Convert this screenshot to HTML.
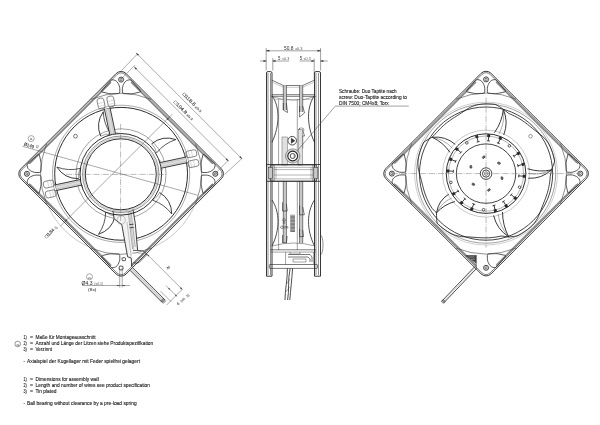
<!DOCTYPE html>
<html><head><meta charset="utf-8"><style>
html,body{margin:0;padding:0;background:#fff;}
svg{display:block;will-change:transform;}
text{font-family:"Liberation Sans",sans-serif;}
</style></head><body>
<svg width="600" height="425" viewBox="0 0 600 425">
<rect width="600" height="425" fill="#fff"/>
<g transform="translate(121.1,173.8) rotate(45)"><rect x="-74.4" y="-74.4" width="148.8" height="148.8" rx="7" stroke="#222" stroke-width="0.85" fill="none"/><rect x="-73.05" y="-73.05" width="146.1" height="146.1" rx="5.7" stroke="#222" stroke-width="0.55" fill="none"/></g>
<line x1="111.13" y1="81.81" x2="29.11" y2="163.83" stroke="#808080" stroke-width="1.2" />
<line x1="110.92" y1="83.01" x2="30.31" y2="163.62" stroke="#444" stroke-width="0.4" />
<line x1="213.09" y1="163.83" x2="131.07" y2="81.81" stroke="#808080" stroke-width="1.2" />
<line x1="211.89" y1="163.62" x2="131.28" y2="83.01" stroke="#444" stroke-width="0.4" />
<line x1="131.07" y1="265.79" x2="213.09" y2="183.77" stroke="#808080" stroke-width="1.2" />
<line x1="131.28" y1="264.59" x2="211.89" y2="183.98" stroke="#444" stroke-width="0.4" />
<line x1="29.11" y1="183.77" x2="111.13" y2="265.79" stroke="#808080" stroke-width="1.2" />
<line x1="30.31" y1="183.98" x2="110.92" y2="264.59" stroke="#444" stroke-width="0.4" />
<path d="M124,93.55 Q122.4,93.5 122.4,91.9 L122.4,88.8 Q122.4,87.2 122.99,85.71 L123.41,84.69 Q124,83.2 125.04,81.98 L125.26,81.72 Q126.3,80.5 127.86,80.15 L129.14,79.85 Q130.7,79.5 131.74,80.71 L140.26,90.59 Q141.3,91.8 139.74,92.14 L133.66,93.46 Q132.1,93.8 130.5,93.75 Z" stroke="#222" stroke-width="0.75" fill="none" />
<path d="M118.2,93.55 Q119.8,93.5 119.8,91.9 L119.8,88.8 Q119.8,87.2 119.21,85.71 L118.79,84.69 Q118.2,83.2 117.16,81.98 L116.94,81.72 Q115.9,80.5 114.34,80.15 L113.06,79.85 Q111.5,79.5 110.46,80.71 L101.94,90.59 Q100.9,91.8 102.46,92.14 L108.54,93.46 Q110.1,93.8 111.7,93.75 Z" stroke="#222" stroke-width="0.75" fill="none" />
<circle cx="121.1" cy="79.6" r="2.5" stroke="#222" stroke-width="0.85" fill="none" />
<circle cx="121.1" cy="79.6" r="1.1" stroke="#222" stroke-width="0.6" fill="#fff" />
<path d="M201.35,176.7 Q201.4,175.1 203,175.1 L206.1,175.1 Q207.7,175.1 209.19,175.69 L210.21,176.11 Q211.7,176.7 212.92,177.74 L213.18,177.96 Q214.4,179 214.75,180.56 L215.05,181.84 Q215.4,183.4 214.19,184.44 L204.31,192.96 Q203.1,194 202.76,192.44 L201.44,186.36 Q201.1,184.8 201.15,183.2 Z" stroke="#222" stroke-width="0.75" fill="none" />
<path d="M201.35,170.9 Q201.4,172.5 203,172.5 L206.1,172.5 Q207.7,172.5 209.19,171.91 L210.21,171.49 Q211.7,170.9 212.92,169.86 L213.18,169.64 Q214.4,168.6 214.75,167.04 L215.05,165.76 Q215.4,164.2 214.19,163.16 L204.31,154.64 Q203.1,153.6 202.76,155.16 L201.44,161.24 Q201.1,162.8 201.15,164.4 Z" stroke="#222" stroke-width="0.75" fill="none" />
<circle cx="215.3" cy="173.8" r="2.5" stroke="#222" stroke-width="0.85" fill="none" />
<circle cx="215.3" cy="173.8" r="1.1" stroke="#222" stroke-width="0.6" fill="#fff" />
<path d="M118.2,254.05 Q119.8,254.1 119.8,255.7 L119.8,258.8 Q119.8,260.4 119.21,261.89 L118.79,262.91 Q118.2,264.4 117.16,265.62 L116.94,265.88 Q115.9,267.1 114.34,267.45 L113.06,267.75 Q111.5,268.1 110.46,266.89 L101.94,257.01 Q100.9,255.8 102.46,255.46 L108.54,254.14 Q110.1,253.8 111.7,253.85 Z" stroke="#222" stroke-width="0.75" fill="none" />
<rect x="119.2" y="266.1" width="3.8" height="3.8" rx="1" stroke="#222" stroke-width="0.8" fill="none"/>
<rect x="122.1" y="257.7" width="3.4" height="3.0" rx="0.8" stroke="#222" stroke-width="0.8" fill="none"/>
<path d="M40.85,170.9 Q40.8,172.5 39.2,172.5 L36.1,172.5 Q34.5,172.5 33.01,171.91 L31.99,171.49 Q30.5,170.9 29.28,169.86 L29.02,169.64 Q27.8,168.6 27.45,167.04 L27.15,165.76 Q26.8,164.2 28.01,163.16 L37.89,154.64 Q39.1,153.6 39.44,155.16 L40.76,161.24 Q41.1,162.8 41.05,164.4 Z" stroke="#222" stroke-width="0.75" fill="none" />
<path d="M40.85,176.7 Q40.8,175.1 39.2,175.1 L36.1,175.1 Q34.5,175.1 33.01,175.69 L31.99,176.11 Q30.5,176.7 29.28,177.74 L29.02,177.96 Q27.8,179 27.45,180.56 L27.15,181.84 Q26.8,183.4 28.01,184.44 L37.89,192.96 Q39.1,194 39.44,192.44 L40.76,186.36 Q41.1,184.8 41.05,183.2 Z" stroke="#222" stroke-width="0.75" fill="none" />
<circle cx="26.9" cy="173.8" r="2.5" stroke="#222" stroke-width="0.85" fill="none" />
<circle cx="26.9" cy="173.8" r="1.1" stroke="#222" stroke-width="0.6" fill="#fff" />
<path d="M91.02,99.35 A80.3,80.3 0 0 1 151.18,99.35" stroke="#444" stroke-width="0.6" fill="none" />
<path d="M195.55,143.72 A80.3,80.3 0 0 1 195.55,203.88" stroke="#444" stroke-width="0.6" fill="none" />
<path d="M151.18,248.25 A80.3,80.3 0 0 1 91.02,248.25" stroke="#444" stroke-width="0.6" fill="none" />
<path d="M46.65,203.88 A80.3,80.3 0 0 1 46.65,143.72" stroke="#444" stroke-width="0.6" fill="none" />
<circle cx="121.1" cy="173.8" r="66.4" stroke="#222" stroke-width="0.95" fill="none" />
<circle cx="121.1" cy="173.8" r="68.6" stroke="#444" stroke-width="0.45" fill="none" />
<circle cx="121.1" cy="173.8" r="45" stroke="#444" stroke-width="0.5" fill="none" />
<path d="M151.63,143.8 Q162.59,134.99 175.88,139.57" stroke="#222" stroke-width="0.9" fill="none" />
<path d="M156.6,152.89 Q164.2,143.27 175.88,139.57" stroke="#222" stroke-width="0.75" fill="none" />
<path d="M151.63,143.8 Q155.52,147.58 156.6,152.89" stroke="#444" stroke-width="0.5" fill="none" />
<path d="M159.6,192.5 Q171.58,199.86 171.73,213.93" stroke="#222" stroke-width="0.9" fill="none" />
<path d="M152.71,200.23 Q164.32,204.16 171.73,213.93" stroke="#222" stroke-width="0.75" fill="none" />
<path d="M159.6,192.5 Q157.35,197.43 152.71,200.23" stroke="#444" stroke-width="0.5" fill="none" />
<path d="M115.14,216.18 Q111.82,229.85 98.48,234.31" stroke="#222" stroke-width="0.9" fill="none" />
<path d="M105.67,212 Q105.5,224.26 98.48,234.31" stroke="#222" stroke-width="0.75" fill="none" />
<path d="M115.14,216.18 Q109.76,215.56 105.67,212" stroke="#444" stroke-width="0.5" fill="none" />
<path d="M78.58,178.65 Q64.51,178.84 56.85,167.05" stroke="#222" stroke-width="0.9" fill="none" />
<path d="M80.25,168.42 Q68.34,171.33 56.85,167.05" stroke="#222" stroke-width="0.75" fill="none" />
<path d="M78.58,178.65 Q77.83,173.27 80.25,168.42" stroke="#444" stroke-width="0.5" fill="none" />
<path d="M100.68,136.19 Q95.22,123.22 103.29,111.7" stroke="#222" stroke-width="0.9" fill="none" />
<path d="M110.78,133.91 Q103.63,123.96 103.29,111.7" stroke="#222" stroke-width="0.75" fill="none" />
<path d="M100.68,136.19 Q105.38,133.49 110.78,133.91" stroke="#444" stroke-width="0.5" fill="none" />
<g transform="translate(121.1,173.8) rotate(-12)"><rect x="40.5" y="-2.9" width="26" height="5.8" fill="#dcdcdc"/><path d="M40.5,-2.9 L66.5,-2.9 M40.5,2.9 L66.5,2.9" stroke="#222" stroke-width="0.8" fill="none"/><path d="M41,-1.4 L66,-1.4 M41,1.4 L66,1.4" stroke="#999" stroke-width="0.3" fill="none"/><rect x="67.6" y="-8.4" width="10.6" height="6.8" rx="2.2" stroke="#444" stroke-width="0.6" fill="none"/><path d="M70.5,-2 L70.5,-8 M73.5,-2 L73.5,-8" stroke="#999" stroke-width="0.35" fill="none"/><rect x="67.6" y="1.6" width="10.6" height="6.8" rx="2.2" stroke="#444" stroke-width="0.6" fill="none"/><path d="M70.5,2 L70.5,8 M73.5,2 L73.5,8" stroke="#999" stroke-width="0.35" fill="none"/><path d="M66.5,-2.9 L67.6,-2.9 M66.5,2.9 L67.6,2.9" stroke="#222" stroke-width="0.7" fill="none"/><path d="M40.5,-2.9 Q41.5,-4.5 40.2,-6 M40.5,2.9 Q41.5,4.5 40.2,6" stroke="#444" stroke-width="0.5" fill="none"/></g>
<g transform="translate(121.1,173.8) rotate(78)"></g>
<g transform="translate(121.1,173.8) rotate(168)"><rect x="40.5" y="-2.9" width="26" height="5.8" fill="#dcdcdc"/><path d="M40.5,-2.9 L66.5,-2.9 M40.5,2.9 L66.5,2.9" stroke="#222" stroke-width="0.8" fill="none"/><path d="M41,-1.4 L66,-1.4 M41,1.4 L66,1.4" stroke="#999" stroke-width="0.3" fill="none"/><rect x="67.6" y="-8.4" width="10.6" height="6.8" rx="2.2" stroke="#444" stroke-width="0.6" fill="none"/><path d="M70.5,-2 L70.5,-8 M73.5,-2 L73.5,-8" stroke="#999" stroke-width="0.35" fill="none"/><rect x="67.6" y="1.6" width="10.6" height="6.8" rx="2.2" stroke="#444" stroke-width="0.6" fill="none"/><path d="M70.5,2 L70.5,8 M73.5,2 L73.5,8" stroke="#999" stroke-width="0.35" fill="none"/><path d="M66.5,-2.9 L67.6,-2.9 M66.5,2.9 L67.6,2.9" stroke="#222" stroke-width="0.7" fill="none"/><path d="M40.5,-2.9 Q41.5,-4.5 40.2,-6 M40.5,2.9 Q41.5,4.5 40.2,6" stroke="#444" stroke-width="0.5" fill="none"/></g>
<g transform="translate(121.1,173.8) rotate(258)"><rect x="40.5" y="-2.9" width="26" height="5.8" fill="#dcdcdc"/><path d="M40.5,-2.9 L66.5,-2.9 M40.5,2.9 L66.5,2.9" stroke="#222" stroke-width="0.8" fill="none"/><path d="M41,-1.4 L66,-1.4 M41,1.4 L66,1.4" stroke="#999" stroke-width="0.3" fill="none"/><rect x="67.6" y="-8.4" width="10.6" height="6.8" rx="2.2" stroke="#444" stroke-width="0.6" fill="none"/><path d="M70.5,-2 L70.5,-8 M73.5,-2 L73.5,-8" stroke="#999" stroke-width="0.35" fill="none"/><rect x="67.6" y="1.6" width="10.6" height="6.8" rx="2.2" stroke="#444" stroke-width="0.6" fill="none"/><path d="M70.5,2 L70.5,8 M73.5,2 L73.5,8" stroke="#999" stroke-width="0.35" fill="none"/><path d="M66.5,-2.9 L67.6,-2.9 M66.5,2.9 L67.6,2.9" stroke="#222" stroke-width="0.7" fill="none"/><path d="M40.5,-2.9 Q41.5,-4.5 40.2,-6 M40.5,2.9 Q41.5,4.5 40.2,6" stroke="#444" stroke-width="0.5" fill="none"/></g>
<path d="M112.9,210.6 L133,209.4 L135.3,223.5 L137.6,250.3 L133,250.5 L131.2,258 L127.6,256.8 L121.8,224.7 L114.1,218.8 Z" fill="#f2f2f2"/>
<path d="M112.9,210.6 L114.1,218.8 L121.8,224.7 L127.6,256.8 L131.2,258 L131.8,266.8" stroke="#222" stroke-width="0.85" fill="none" />
<path d="M133,209.4 L135.3,223.5 L137.6,250.3" stroke="#222" stroke-width="0.85" fill="none" />
<path d="M127,222 L131.2,256.5 M129.5,211 L133.8,250" stroke="#777" stroke-width="0.4" fill="none" />
<path d="M129.4,224.6 L133.6,224.2 M129.7,227.8 L133.9,227.4" stroke="#222" stroke-width="0.8" fill="none" />
<path d="M128.2,212 L132.6,249 M130.9,211 L135.2,247" stroke="#444" stroke-width="0.4" fill="none" />
<circle cx="121.2" cy="220" r="4.1" stroke="#777" stroke-width="0.4" fill="none" />
<path d="M133,250.5 L140,250.5 Q146,251 146.5,255 L139,262.5 Q136,264 133.5,262.5" stroke="#222" stroke-width="0.7" fill="none" />
<path d="M137.6,253 L143.5,253.5 L138,259" stroke="#444" stroke-width="0.4" fill="none" />
<circle cx="120.8" cy="174.3" r="35.5" stroke="#222" stroke-width="0.95" fill="none" />
<circle cx="120.8" cy="174.3" r="36.8" stroke="#777" stroke-width="0.4" fill="none" />
<circle cx="120.8" cy="174.3" r="38.2" stroke="#444" stroke-width="0.6" fill="none" />
<circle cx="120.8" cy="174.3" r="40.8" stroke="#222" stroke-width="0.95" fill="none" />
<circle cx="75.5" cy="136.2" r="1.9" stroke="#222" stroke-width="0.6" fill="none" />
<line x1="120.6" y1="123.8" x2="120.6" y2="220.8" stroke="#555" stroke-width="0.4" stroke-dasharray="6,1.2,0.8,1.2"/>
<line x1="66.1" y1="174.4" x2="166.1" y2="174.4" stroke="#555" stroke-width="0.4" stroke-dasharray="6,1.2,0.8,1.2"/>
<g transform="translate(486.05,173.6) rotate(45)"><rect x="-74.4" y="-74.4" width="148.8" height="148.8" rx="7" stroke="#222" stroke-width="0.85" fill="none"/><rect x="-73.05" y="-73.05" width="146.1" height="146.1" rx="5.7" stroke="#222" stroke-width="0.55" fill="none"/></g>
<line x1="476.08" y1="81.61" x2="394.06" y2="163.63" stroke="#808080" stroke-width="1.2" />
<line x1="475.87" y1="82.81" x2="395.26" y2="163.42" stroke="#444" stroke-width="0.4" />
<line x1="578.04" y1="163.63" x2="496.02" y2="81.61" stroke="#808080" stroke-width="1.2" />
<line x1="576.84" y1="163.42" x2="496.23" y2="82.81" stroke="#444" stroke-width="0.4" />
<line x1="496.02" y1="265.59" x2="578.04" y2="183.57" stroke="#808080" stroke-width="1.2" />
<line x1="496.23" y1="264.39" x2="576.84" y2="183.78" stroke="#444" stroke-width="0.4" />
<line x1="394.06" y1="183.57" x2="476.08" y2="265.59" stroke="#808080" stroke-width="1.2" />
<line x1="395.26" y1="183.78" x2="475.87" y2="264.39" stroke="#444" stroke-width="0.4" />
<path d="M488.95,93.35 Q487.35,93.3 487.35,91.7 L487.35,88.6 Q487.35,87 487.94,85.51 L488.36,84.49 Q488.95,83 489.99,81.78 L490.21,81.52 Q491.25,80.3 492.81,79.95 L494.09,79.65 Q495.65,79.3 496.69,80.51 L505.21,90.39 Q506.25,91.6 504.69,91.94 L498.61,93.26 Q497.05,93.6 495.45,93.55 Z" stroke="#222" stroke-width="0.75" fill="none" />
<path d="M483.15,93.35 Q484.75,93.3 484.75,91.7 L484.75,88.6 Q484.75,87 484.16,85.51 L483.74,84.49 Q483.15,83 482.11,81.78 L481.89,81.52 Q480.85,80.3 479.29,79.95 L478.01,79.65 Q476.45,79.3 475.41,80.51 L466.89,90.39 Q465.85,91.6 467.41,91.94 L473.49,93.26 Q475.05,93.6 476.65,93.55 Z" stroke="#222" stroke-width="0.75" fill="none" />
<circle cx="486.05" cy="79.4" r="2.5" stroke="#222" stroke-width="0.85" fill="none" />
<circle cx="486.05" cy="79.4" r="1.1" stroke="#222" stroke-width="0.6" fill="#fff" />
<path d="M566.3,176.5 Q566.35,174.9 567.95,174.9 L571.05,174.9 Q572.65,174.9 574.14,175.49 L575.16,175.91 Q576.65,176.5 577.87,177.54 L578.13,177.76 Q579.35,178.8 579.7,180.36 L580,181.64 Q580.35,183.2 579.14,184.24 L569.26,192.76 Q568.05,193.8 567.71,192.24 L566.39,186.16 Q566.05,184.6 566.1,183 Z" stroke="#222" stroke-width="0.75" fill="none" />
<path d="M566.3,170.7 Q566.35,172.3 567.95,172.3 L571.05,172.3 Q572.65,172.3 574.14,171.71 L575.16,171.29 Q576.65,170.7 577.87,169.66 L578.13,169.44 Q579.35,168.4 579.7,166.84 L580,165.56 Q580.35,164 579.14,162.96 L569.26,154.44 Q568.05,153.4 567.71,154.96 L566.39,161.04 Q566.05,162.6 566.1,164.2 Z" stroke="#222" stroke-width="0.75" fill="none" />
<circle cx="580.25" cy="173.6" r="2.5" stroke="#222" stroke-width="0.85" fill="none" />
<circle cx="580.25" cy="173.6" r="1.1" stroke="#222" stroke-width="0.6" fill="#fff" />
<path d="M488.95,253.85 Q487.35,253.9 487.35,255.5 L487.35,258.6 Q487.35,260.2 487.94,261.69 L488.36,262.71 Q488.95,264.2 489.99,265.42 L490.21,265.68 Q491.25,266.9 492.81,267.25 L494.09,267.55 Q495.65,267.9 496.69,266.69 L505.21,256.81 Q506.25,255.6 504.69,255.26 L498.61,253.94 Q497.05,253.6 495.45,253.65 Z" stroke="#222" stroke-width="0.75" fill="none" />
<circle cx="486.05" cy="267.8" r="2.5" stroke="#222" stroke-width="0.85" fill="none" />
<circle cx="486.05" cy="267.8" r="1.1" stroke="#222" stroke-width="0.6" fill="#fff" />
<path d="M405.8,170.7 Q405.75,172.3 404.15,172.3 L401.05,172.3 Q399.45,172.3 397.96,171.71 L396.94,171.29 Q395.45,170.7 394.23,169.66 L393.97,169.44 Q392.75,168.4 392.4,166.84 L392.1,165.56 Q391.75,164 392.96,162.96 L402.84,154.44 Q404.05,153.4 404.39,154.96 L405.71,161.04 Q406.05,162.6 406,164.2 Z" stroke="#222" stroke-width="0.75" fill="none" />
<path d="M405.8,176.5 Q405.75,174.9 404.15,174.9 L401.05,174.9 Q399.45,174.9 397.96,175.49 L396.94,175.91 Q395.45,176.5 394.23,177.54 L393.97,177.76 Q392.75,178.8 392.4,180.36 L392.1,181.64 Q391.75,183.2 392.96,184.24 L402.84,192.76 Q404.05,193.8 404.39,192.24 L405.71,186.16 Q406.05,184.6 406,183 Z" stroke="#222" stroke-width="0.75" fill="none" />
<circle cx="391.85" cy="173.6" r="2.5" stroke="#222" stroke-width="0.85" fill="none" />
<circle cx="391.85" cy="173.6" r="1.1" stroke="#222" stroke-width="0.6" fill="#fff" />
<path d="M455.97,99.15 A80.3,80.3 0 0 1 516.13,99.15" stroke="#444" stroke-width="0.6" fill="none" />
<path d="M560.5,143.52 A80.3,80.3 0 0 1 560.5,203.68" stroke="#444" stroke-width="0.6" fill="none" />
<path d="M516.13,248.05 A80.3,80.3 0 0 1 455.97,248.05" stroke="#444" stroke-width="0.6" fill="none" />
<path d="M411.6,203.68 A80.3,80.3 0 0 1 411.6,143.52" stroke="#444" stroke-width="0.6" fill="none" />
<circle cx="486.05" cy="173.6" r="66.6" stroke="#222" stroke-width="0.85" fill="none" />
<circle cx="486.05" cy="173.6" r="69.6" stroke="#444" stroke-width="0.5" fill="none" />
<circle cx="486.05" cy="173.6" r="71.4" stroke="#777" stroke-width="0.35" fill="none" />
<circle cx="486.05" cy="173.6" r="43.5" stroke="#777" stroke-width="0.4" fill="none" />
<path d="M494.46,132.65 Q501.9,122.17 503.37,109.4" stroke="#222" stroke-width="0.9" fill="none" />
<path d="M503.74,134.96 Q508.76,122.1 503.37,109.4" stroke="#222" stroke-width="0.9" fill="none" />
<path d="M499.1,133.68 Q505.18,122.23 503.37,109.4" stroke="#444" stroke-width="0.45" fill="none" />
<path d="M450.03,152.38 Q443.17,142.38 432.16,137.25" stroke="#222" stroke-width="0.9" fill="none" />
<path d="M455.22,144.34 Q445.22,135.83 432.16,137.25" stroke="#222" stroke-width="0.9" fill="none" />
<path d="M452.51,148.32 Q444.25,139.27 432.16,137.25" stroke="#444" stroke-width="0.45" fill="none" />
<path d="M527.56,168.72 Q539.29,172.53 551.35,169.95" stroke="#222" stroke-width="0.9" fill="none" />
<path d="M528.29,178.26 Q541.58,179 551.35,169.95" stroke="#222" stroke-width="0.9" fill="none" />
<path d="M528.05,173.45 Q540.29,175.66 551.35,169.95" stroke="#444" stroke-width="0.45" fill="none" />
<path d="M454.94,201.52 Q444.05,204.46 436.52,212.86" stroke="#222" stroke-width="0.9" fill="none" />
<path d="M448.84,194.14 Q438.34,200.64 436.52,212.86" stroke="#222" stroke-width="0.9" fill="none" />
<path d="M451.81,197.93 Q441.37,202.53 436.52,212.86" stroke="#444" stroke-width="0.45" fill="none" />
<path d="M502.52,212.02 Q502.52,225.26 508.74,236.96" stroke="#222" stroke-width="0.9" fill="none" />
<path d="M493.58,215.43 Q496.9,229.19 508.74,236.96" stroke="#222" stroke-width="0.9" fill="none" />
<path d="M498.12,213.83 Q499.79,227.06 508.74,236.96" stroke="#444" stroke-width="0.45" fill="none" />
<path d="M432.16,137.25 L433.52,135.74 L434.92,134.29 L436.35,132.88 L437.68,131.39 L439.01,129.91 L440.38,128.47 L441.8,127.07 L443.27,125.71 L444.77,124.4 L446.3,123.14 L447.88,121.91 L449.48,120.73 L451.12,119.59 L452.78,118.48 L454.46,117.39 L456.16,116.32 L457.86,115.25 L459.58,114.16 L461.3,113.03 L463.03,111.87 L464.79,110.68 L466.58,109.49 L468.42,108.36 L470.33,107.32 L472.31,106.42 L474.34,105.67 L476.41,105.08 L478.52,104.62 L480.65,104.29 L482.8,104.06 L484.96,103.93 L487.12,103.89 L489.28,103.93 L491.44,104.04 L493.6,104.23 L495.75,104.49 L497.75,105.63 L499.69,106.83 L501.56,108.09 L503.37,109.4" stroke="#222" stroke-width="0.85" fill="none" />
<path d="M503.37,109.4 L505.16,110.66 L506.89,111.97 L508.56,113.32 L510.38,114.19 L512.23,114.98 L514.05,115.82 L515.85,116.72 L517.61,117.68 L519.35,118.68 L521.06,119.74 L522.74,120.85 L524.38,122 L526.01,123.19 L527.6,124.42 L529.18,125.68 L530.75,126.95 L532.33,128.24 L533.92,129.53 L535.55,130.81 L537.21,132.09 L538.91,133.39 L540.62,134.73 L542.29,136.13 L543.89,137.62 L545.38,139.22 L546.74,140.93 L547.98,142.72 L549.09,144.59 L550.09,146.53 L550.99,148.51 L551.8,150.53 L552.53,152.59 L553.18,154.67 L553.76,156.78 L554.26,158.9 L554.7,161.04 L553.97,163.35 L553.17,165.61 L552.3,167.81 L551.35,169.95" stroke="#222" stroke-width="0.85" fill="none" />
<path d="M551.35,169.95 L551.06,172.05 L550.7,174.14 L550.27,176.19 L550.08,178.25 L549.9,180.3 L549.66,182.34 L549.35,184.38 L548.98,186.4 L548.54,188.42 L548.04,190.41 L547.49,192.4 L546.88,194.37 L546.22,196.32 L545.52,198.26 L544.78,200.2 L544.02,202.13 L543.25,204.06 L542.47,206.01 L541.71,207.99 L540.96,210.01 L540.2,212.06 L539.4,214.13 L538.53,216.19 L537.54,218.2 L536.41,220.14 L535.15,221.98 L533.76,223.72 L532.26,225.37 L530.66,226.93 L528.98,228.4 L527.24,229.8 L525.44,231.13 L523.59,232.38 L521.69,233.57 L519.76,234.69 L517.79,235.75 L515.51,236.18 L513.25,236.52 L510.99,236.78 L508.74,236.96" stroke="#222" stroke-width="0.85" fill="none" />
<path d="M508.74,236.96 L506.46,236.71 L504.21,236.39 L502.01,235.99 L500.02,236.26 L498.07,236.67 L496.1,237.02 L494.12,237.3 L492.14,237.53 L490.15,237.69 L488.15,237.8 L486.15,237.85 L484.15,237.85 L482.15,237.8 L480.15,237.71 L478.15,237.59 L476.14,237.45 L474.13,237.3 L472.09,237.16 L470.04,237.04 L467.95,236.95 L465.82,236.86 L463.67,236.75 L461.5,236.57 L459.35,236.27 L457.22,235.82 L455.14,235.21 L453.11,234.45 L451.13,233.57 L449.22,232.56 L447.35,231.47 L445.53,230.29 L443.76,229.03 L442.04,227.71 L440.37,226.33 L438.74,224.89 L437.16,223.4 L436.82,220.72 L436.61,218.06 L436.51,215.44 L436.52,212.86" stroke="#222" stroke-width="0.85" fill="none" />
<path d="M436.52,212.86 L435.05,211.46 L433.63,210.01 L432.24,208.5 L431.11,206.82 L430.09,205.07 L429.12,203.29 L428.21,201.48 L427.35,199.64 L426.55,197.77 L425.8,195.89 L425.11,193.98 L424.47,192.05 L423.88,190.11 L423.33,188.15 L422.81,186.18 L422.32,184.2 L421.82,182.2 L421.31,180.2 L420.78,178.18 L420.22,176.13 L419.64,174.05 L419.07,171.94 L418.57,169.79 L418.19,167.62 L417.97,165.42 L417.91,163.22 L418,161.03 L418.25,158.84 L418.62,156.67 L419.1,154.53 L419.67,152.4 L420.34,150.3 L421.08,148.23 L421.9,146.18 L422.78,144.17 L423.74,142.18 L425.81,140.8 L427.91,139.52 L430.03,138.33 L432.16,137.25" stroke="#222" stroke-width="0.85" fill="none" />
<circle cx="486.05" cy="173.6" r="39.8" stroke="#222" stroke-width="0.95" fill="none" />
<circle cx="486.05" cy="173.6" r="37.6" stroke="#444" stroke-width="0.4" fill="none" />
<circle cx="486.05" cy="173.6" r="29.7" stroke="#222" stroke-width="0.85" fill="none" />
<g transform="translate(486.05,173.6) rotate(-86)"><rect x="36.6" y="-1.5" width="3.0" height="3.0" rx="0.6" fill="#2a2a2a"/><path d="M36.7,0 L32.8,0 M32.8,-1.5 L32.8,1.5" stroke="#2a2a2a" stroke-width="0.85" fill="none"/></g>
<g transform="translate(486.05,173.6) rotate(-68)"><rect x="36.6" y="-1.5" width="3.0" height="3.0" rx="0.6" fill="#2a2a2a"/><path d="M36.7,0 L32.8,0 M32.8,-1.5 L32.8,1.5" stroke="#2a2a2a" stroke-width="0.85" fill="none"/></g>
<circle cx="509.32" cy="145.87" r="1.3" stroke="#222" stroke-width="0.7" fill="none" />
<g transform="translate(486.05,173.6) rotate(-32)"><rect x="36.6" y="-1.5" width="3.0" height="3.0" rx="0.6" fill="#2a2a2a"/><path d="M36.7,0 L32.8,0 M32.8,-1.5 L32.8,1.5" stroke="#2a2a2a" stroke-width="0.85" fill="none"/></g>
<g transform="translate(486.05,173.6) rotate(-14)"><rect x="36.6" y="-1.5" width="3.0" height="3.0" rx="0.6" fill="#2a2a2a"/><path d="M36.7,0 L32.8,0 M32.8,-1.5 L32.8,1.5" stroke="#2a2a2a" stroke-width="0.85" fill="none"/></g>
<g transform="translate(486.05,173.6) rotate(4)"><rect x="36.6" y="-1.5" width="3.0" height="3.0" rx="0.6" fill="#2a2a2a"/><path d="M36.7,0 L32.8,0 M32.8,-1.5 L32.8,1.5" stroke="#2a2a2a" stroke-width="0.85" fill="none"/></g>
<circle cx="519.61" cy="187.16" r="1.3" stroke="#222" stroke-width="0.7" fill="none" />
<g transform="translate(486.05,173.6) rotate(40)"><rect x="36.6" y="-1.5" width="3.0" height="3.0" rx="0.6" fill="#2a2a2a"/><path d="M36.7,0 L32.8,0 M32.8,-1.5 L32.8,1.5" stroke="#2a2a2a" stroke-width="0.85" fill="none"/></g>
<g transform="translate(486.05,173.6) rotate(58)"><rect x="36.6" y="-1.5" width="3.0" height="3.0" rx="0.6" fill="#2a2a2a"/><path d="M36.7,0 L32.8,0 M32.8,-1.5 L32.8,1.5" stroke="#2a2a2a" stroke-width="0.85" fill="none"/></g>
<g transform="translate(486.05,173.6) rotate(76)"><rect x="36.6" y="-1.5" width="3.0" height="3.0" rx="0.6" fill="#2a2a2a"/><path d="M36.7,0 L32.8,0 M32.8,-1.5 L32.8,1.5" stroke="#2a2a2a" stroke-width="0.85" fill="none"/></g>
<circle cx="483.52" cy="209.71" r="1.3" stroke="#222" stroke-width="0.7" fill="none" />
<g transform="translate(486.05,173.6) rotate(112)"><rect x="36.6" y="-1.5" width="3.0" height="3.0" rx="0.6" fill="#2a2a2a"/><path d="M36.7,0 L32.8,0 M32.8,-1.5 L32.8,1.5" stroke="#2a2a2a" stroke-width="0.85" fill="none"/></g>
<g transform="translate(486.05,173.6) rotate(130)"><rect x="36.6" y="-1.5" width="3.0" height="3.0" rx="0.6" fill="#2a2a2a"/><path d="M36.7,0 L32.8,0 M32.8,-1.5 L32.8,1.5" stroke="#2a2a2a" stroke-width="0.85" fill="none"/></g>
<g transform="translate(486.05,173.6) rotate(148)"><rect x="36.6" y="-1.5" width="3.0" height="3.0" rx="0.6" fill="#2a2a2a"/><path d="M36.7,0 L32.8,0 M32.8,-1.5 L32.8,1.5" stroke="#2a2a2a" stroke-width="0.85" fill="none"/></g>
<circle cx="450.93" cy="182.36" r="1.3" stroke="#222" stroke-width="0.7" fill="none" />
<g transform="translate(486.05,173.6) rotate(184)"><rect x="36.6" y="-1.5" width="3.0" height="3.0" rx="0.6" fill="#2a2a2a"/><path d="M36.7,0 L32.8,0 M32.8,-1.5 L32.8,1.5" stroke="#2a2a2a" stroke-width="0.85" fill="none"/></g>
<g transform="translate(486.05,173.6) rotate(202)"><rect x="36.6" y="-1.5" width="3.0" height="3.0" rx="0.6" fill="#2a2a2a"/><path d="M36.7,0 L32.8,0 M32.8,-1.5 L32.8,1.5" stroke="#2a2a2a" stroke-width="0.85" fill="none"/></g>
<g transform="translate(486.05,173.6) rotate(220)"><rect x="36.6" y="-1.5" width="3.0" height="3.0" rx="0.6" fill="#2a2a2a"/><path d="M36.7,0 L32.8,0 M32.8,-1.5 L32.8,1.5" stroke="#2a2a2a" stroke-width="0.85" fill="none"/></g>
<circle cx="466.87" cy="142.9" r="1.3" stroke="#222" stroke-width="0.7" fill="none" />
<g transform="translate(486.05,173.6) rotate(256)"><rect x="36.6" y="-1.5" width="3.0" height="3.0" rx="0.6" fill="#2a2a2a"/><path d="M36.7,0 L32.8,0 M32.8,-1.5 L32.8,1.5" stroke="#2a2a2a" stroke-width="0.85" fill="none"/></g>
<ellipse cx="483.74" cy="157.16" rx="1.5" ry="1.0" transform="rotate(-38 483.74 157.16)" stroke="#222" stroke-width="0.6" fill="#777"/>
<ellipse cx="498.95" cy="163.15" rx="1.5" ry="1.0" transform="rotate(21 498.95 163.15)" stroke="#222" stroke-width="0.6" fill="#777"/>
<ellipse cx="502.01" cy="178.18" rx="1.5" ry="1.0" transform="rotate(76 502.01 178.18)" stroke="#222" stroke-width="0.6" fill="#777"/>
<ellipse cx="488.93" cy="189.95" rx="1.5" ry="1.0" transform="rotate(140 488.93 189.95)" stroke="#222" stroke-width="0.6" fill="#777"/>
<ellipse cx="473.33" cy="184.27" rx="1.5" ry="1.0" transform="rotate(200 473.33 184.27)" stroke="#222" stroke-width="0.6" fill="#777"/>
<ellipse cx="470.89" cy="166.85" rx="1.5" ry="1.0" transform="rotate(-96 470.89 166.85)" stroke="#222" stroke-width="0.6" fill="#777"/>
<circle cx="486.05" cy="173.6" r="5.8" stroke="#222" stroke-width="0.85" fill="none" />
<circle cx="486.05" cy="173.6" r="3.6" stroke="#222" stroke-width="0.8" fill="none" />
<circle cx="486.05" cy="173.6" r="1.8" stroke="#444" stroke-width="0.5" fill="none" />
<circle cx="530.5" cy="136.2" r="1.8" stroke="#444" stroke-width="0.5" fill="none" />
<line x1="486.05" y1="97.6" x2="486.05" y2="247.6" stroke="#555" stroke-width="0.4" stroke-dasharray="6,1.2,0.8,1.2"/>
<line x1="392.05" y1="173.6" x2="580.05" y2="173.6" stroke="#555" stroke-width="0.4" stroke-dasharray="6,1.2,0.8,1.2"/>
<text x="23.5" y="339" font-size="5.3" fill="#222" textLength="3.2" lengthAdjust="spacingAndGlyphs" stroke="#222" stroke-width="0.12">1)</text>
<text x="29.9" y="339" font-size="5.3" fill="#222" textLength="3" lengthAdjust="spacingAndGlyphs" stroke="#222" stroke-width="0.12">=</text>
<text x="35.5" y="339" font-size="5.3" fill="#222" textLength="60.2" lengthAdjust="spacingAndGlyphs" stroke="#222" stroke-width="0.12">Maße für Montageausschnitt</text>
<text x="23.5" y="345" font-size="5.3" fill="#222" textLength="3.2" lengthAdjust="spacingAndGlyphs" stroke="#222" stroke-width="0.12">2)</text>
<text x="29.9" y="345" font-size="5.3" fill="#222" textLength="3" lengthAdjust="spacingAndGlyphs" stroke="#222" stroke-width="0.12">=</text>
<text x="35.5" y="345" font-size="5.3" fill="#222" textLength="117.6" lengthAdjust="spacingAndGlyphs" stroke="#222" stroke-width="0.12">Anzahl und Länge der Litzen siehe Produktspezifikation</text>
<text x="23.5" y="351" font-size="5.3" fill="#222" textLength="3.2" lengthAdjust="spacingAndGlyphs" stroke="#222" stroke-width="0.12">3)</text>
<text x="29.9" y="351" font-size="5.3" fill="#222" textLength="3" lengthAdjust="spacingAndGlyphs" stroke="#222" stroke-width="0.12">=</text>
<text x="35.5" y="351" font-size="5.3" fill="#222" textLength="16.5" lengthAdjust="spacingAndGlyphs" stroke="#222" stroke-width="0.12">Verzinnt</text>
<text x="23.5" y="381.2" font-size="5.3" fill="#222" textLength="3.2" lengthAdjust="spacingAndGlyphs" stroke="#222" stroke-width="0.12">1)</text>
<text x="29.9" y="381.2" font-size="5.3" fill="#222" textLength="3" lengthAdjust="spacingAndGlyphs" stroke="#222" stroke-width="0.12">=</text>
<text x="35.5" y="381.2" font-size="5.3" fill="#222" textLength="63.2" lengthAdjust="spacingAndGlyphs" stroke="#222" stroke-width="0.12">Dimensions for assembly wall</text>
<text x="23.5" y="387" font-size="5.3" fill="#222" textLength="3.2" lengthAdjust="spacingAndGlyphs" stroke="#222" stroke-width="0.12">2)</text>
<text x="29.9" y="387" font-size="5.3" fill="#222" textLength="3" lengthAdjust="spacingAndGlyphs" stroke="#222" stroke-width="0.12">=</text>
<text x="35.5" y="387" font-size="5.3" fill="#222" textLength="114.5" lengthAdjust="spacingAndGlyphs" stroke="#222" stroke-width="0.12">Length and number of wires see product specification</text>
<text x="23.5" y="393" font-size="5.3" fill="#222" textLength="3.2" lengthAdjust="spacingAndGlyphs" stroke="#222" stroke-width="0.12">3)</text>
<text x="29.9" y="393" font-size="5.3" fill="#222" textLength="3" lengthAdjust="spacingAndGlyphs" stroke="#222" stroke-width="0.12">=</text>
<text x="35.5" y="393" font-size="5.3" fill="#222" textLength="21" lengthAdjust="spacingAndGlyphs" stroke="#222" stroke-width="0.12">Tin plated</text>
<text x="23.5" y="363" font-size="5.3" fill="#222" textLength="1.6" lengthAdjust="spacingAndGlyphs" stroke="#222" stroke-width="0.12">-</text>
<text x="27" y="363" font-size="5.3" fill="#222" textLength="113" lengthAdjust="spacingAndGlyphs" stroke="#222" stroke-width="0.12">Axialspiel der Kugellager mit Feder spielfrei gelagert</text>
<text x="23.5" y="405.2" font-size="5.3" fill="#222" textLength="1.6" lengthAdjust="spacingAndGlyphs" stroke="#222" stroke-width="0.12">-</text>
<text x="27" y="405.2" font-size="5.3" fill="#222" textLength="109.7" lengthAdjust="spacingAndGlyphs" stroke="#222" stroke-width="0.12">Ball bearing without clearance by a pre-load spring</text>
<circle cx="17.7" cy="344" r="2.8" stroke="#333" stroke-width="0.5" fill="none" />
<text x="17.7" y="345.8" font-size="4.4" fill="#333" text-anchor="middle" >a</text>
<line x1="121.5" y1="70.5" x2="137.4" y2="54" stroke="#444" stroke-width="0.45" />
<line x1="224.5" y1="174.5" x2="242.2" y2="158.2" stroke="#444" stroke-width="0.45" />
<line x1="136.3" y1="53.1" x2="241.9" y2="158.7" stroke="#444" stroke-width="0.45" />
<path d="M136.3,53.1 L138.77,54.58 L137.78,55.57 Z" stroke="#333" stroke-width="0.2" fill="#333" />
<path d="M241.9,158.7 L239.43,157.22 L240.42,156.23 Z" stroke="#333" stroke-width="0.2" fill="#333" />
<line x1="120.6" y1="79.6" x2="135" y2="65.2" stroke="#444" stroke-width="0.45" />
<line x1="214.7" y1="174" x2="228.8" y2="159.9" stroke="#444" stroke-width="0.45" />
<line x1="134.4" y1="67.1" x2="228.3" y2="160.9" stroke="#444" stroke-width="0.45" />
<path d="M134.4,67.1 L136.87,68.58 L135.88,69.57 Z" stroke="#333" stroke-width="0.2" fill="#333" />
<path d="M228.3,160.9 L225.83,159.42 L226.82,158.43 Z" stroke="#333" stroke-width="0.2" fill="#333" />
<text x="182.2" y="94.6" font-size="4.6" fill="#333" stroke="#333" stroke-width="0.1" transform="rotate(45 182.2 94.6)" textLength="16.5" lengthAdjust="spacingAndGlyphs">□118.6</text>
<text x="194.6" y="107.2" font-size="3.3" fill="#555" stroke="#555" stroke-width="0.1" transform="rotate(45 194.6 107.2)" textLength="7.8" lengthAdjust="spacingAndGlyphs">±0.3</text>
<text x="173.6" y="102.6" font-size="4.6" fill="#333" stroke="#333" stroke-width="0.1" transform="rotate(45 173.6 102.6)" textLength="16.5" lengthAdjust="spacingAndGlyphs">□104.8</text>
<text x="186" y="115.2" font-size="3.3" fill="#555" stroke="#555" stroke-width="0.1" transform="rotate(45 186 115.2)" textLength="7.8" lengthAdjust="spacingAndGlyphs">±0.3</text>
<line x1="60.2" y1="226.3" x2="172.3" y2="114.2" stroke="#444" stroke-width="0.45" />
<path d="M168.8,117.7 L167.53,119.82 L166.68,118.97 Z" stroke="#333" stroke-width="0.2" fill="#333" />
<path d="M65,221.5 L66.27,219.38 L67.12,220.23 Z" stroke="#333" stroke-width="0.2" fill="#333" />
<text x="46.5" y="238.5" font-size="4.6" fill="#333" stroke="#333" stroke-width="0.1" transform="rotate(-45 46.5 238.5)" textLength="11.5" lengthAdjust="spacingAndGlyphs">□134</text>
<text x="55.8" y="229.6" font-size="3.2" fill="#555" stroke="#555" stroke-width="0.1" transform="rotate(-45 55.8 229.6)" textLength="2.6" lengthAdjust="spacingAndGlyphs">1)</text>
<line x1="22.5" y1="146.3" x2="197.5" y2="195.2" stroke="#444" stroke-width="0.45" />
<text x="23.4" y="145.6" font-size="4.6" fill="#333" stroke="#333" stroke-width="0.1" transform="rotate(15.5 23.4 145.6)" textLength="10.5" lengthAdjust="spacingAndGlyphs">Ø149</text>
<text x="35.8" y="147.2" font-size="3.2" fill="#555" stroke="#555" stroke-width="0.1" transform="rotate(15.5 35.8 147.2)" textLength="2.6" lengthAdjust="spacingAndGlyphs">1)</text>
<circle cx="31.2" cy="138.6" r="3" stroke="#444" stroke-width="0.45" fill="none" />
<text x="31.2" y="140.4" font-size="4.4" fill="#333" text-anchor="middle" >a</text>
<path d="M91.23,247.87 A80,80 0 0 1 47.03,203.67" stroke="#777" stroke-width="0.4" fill="none" />
<path d="M195.37,203.67 A80,80 0 0 1 151.17,247.87" stroke="#777" stroke-width="0.4" fill="none" />
<line x1="119.7" y1="268" x2="119.7" y2="287.5" stroke="#444" stroke-width="0.45" />
<line x1="122.2" y1="268" x2="122.2" y2="287.5" stroke="#444" stroke-width="0.45" />
<line x1="82" y1="285.5" x2="130" y2="285.5" stroke="#444" stroke-width="0.45" />
<path d="M119.7,285.5 L117.3,286.1 L117.3,284.9 Z" stroke="#333" stroke-width="0.2" fill="#333" />
<path d="M122.2,285.5 L124.6,284.9 L124.6,286.1 Z" stroke="#333" stroke-width="0.2" fill="#333" />
<text x="81.5" y="284.6" font-size="4.6" fill="#222" textLength="11" lengthAdjust="spacingAndGlyphs" >Ø4.3</text>
<text x="94.2" y="284.6" font-size="3.2" fill="#555" textLength="9" lengthAdjust="spacingAndGlyphs" >(±0.1)</text>
<text x="88" y="291.2" font-size="4.4" fill="#222" textLength="8.5" lengthAdjust="spacingAndGlyphs" >(8x)</text>
<circle cx="89.5" cy="276.8" r="3" stroke="#444" stroke-width="0.45" fill="none" />
<text x="89.5" y="278.6" font-size="4.4" fill="#333" text-anchor="middle" >a</text>
<line x1="130.06" y1="270.34" x2="162.26" y2="302.54" stroke="#222" stroke-width="0.8" />
<line x1="130.94" y1="269.46" x2="163.14" y2="301.66" stroke="#555" stroke-width="0.45" />
<line x1="131.86" y1="268.54" x2="164.06" y2="300.74" stroke="#555" stroke-width="0.45" />
<line x1="132.74" y1="267.66" x2="164.94" y2="299.86" stroke="#222" stroke-width="0.8" />
<line x1="160.6" y1="301" x2="163.4" y2="298.2" stroke="#333" stroke-width="0.6" />
<line x1="161.24" y1="301.64" x2="164.04" y2="298.84" stroke="#333" stroke-width="0.6" />
<line x1="161.87" y1="302.27" x2="164.67" y2="299.47" stroke="#333" stroke-width="0.6" />
<line x1="162.51" y1="302.91" x2="165.31" y2="300.11" stroke="#333" stroke-width="0.6" />
<line x1="163.15" y1="303.55" x2="165.95" y2="300.75" stroke="#333" stroke-width="0.6" />
<line x1="147" y1="254.2" x2="182.2" y2="289.4" stroke="#444" stroke-width="0.45" />
<path d="M147,254.2 L149.12,255.47 L148.27,256.32 Z" stroke="#333" stroke-width="0.2" fill="#333" />
<path d="M182.2,289.4 L180.08,288.13 L180.93,287.28 Z" stroke="#333" stroke-width="0.2" fill="#333" />
<line x1="182.2" y1="289.4" x2="166.5" y2="305.1" stroke="#444" stroke-width="0.45" />
<text x="166.4" y="267.2" font-size="3.6" fill="#444" stroke="#444" stroke-width="0.1" transform="rotate(45 166.4 267.2)" textLength="3.2" lengthAdjust="spacingAndGlyphs">2)</text>
<line x1="166" y1="285.6" x2="176.8" y2="296.4" stroke="#444" stroke-width="0.45" />
<line x1="160.5" y1="291.1" x2="171.3" y2="301.9" stroke="#444" stroke-width="0.45" />
<path d="M170.1,289.7 L168.33,288.64 L169.04,287.93 Z" stroke="#333" stroke-width="0.2" fill="#333" />
<path d="M175,294.6 L176.77,295.66 L176.06,296.37 Z" stroke="#333" stroke-width="0.2" fill="#333" />
<text x="178.2" y="305.5" font-size="3.6" fill="#444" stroke="#444" stroke-width="0.1" transform="rotate(-45 178.2 305.5)" textLength="2.2" lengthAdjust="spacingAndGlyphs">6</text>
<text x="181.5" y="302.5" font-size="3.0" fill="#555" stroke="#555" stroke-width="0.1" transform="rotate(-45 181.5 302.5)" textLength="5.2" lengthAdjust="spacingAndGlyphs">(±1)</text>
<text x="187.5" y="297.4" font-size="3.0" fill="#555" stroke="#555" stroke-width="0.1" transform="rotate(-45 187.5 297.4)" textLength="3" lengthAdjust="spacingAndGlyphs">3)</text>
<path d="M465.8,255.6 L475.9,255.6 L475.9,262.8 Z" stroke="#333" stroke-width="0.6" fill="#444" />
<path d="M468.5,257 L474.5,257 M471,259.2 L474.8,259.2" stroke="#ccc" stroke-width="0.5" fill="none" />
<line x1="476.2" y1="255" x2="476.2" y2="268.5" stroke="#333" stroke-width="0.7" />
<line x1="474.58" y1="266.78" x2="441.58" y2="301.38" stroke="#222" stroke-width="0.8" />
<line x1="475.5" y1="267.7" x2="442.5" y2="302.3" stroke="#888" stroke-width="0.4" />
<line x1="476.42" y1="268.62" x2="443.42" y2="303.22" stroke="#222" stroke-width="0.8" />
<line x1="441.3" y1="301.1" x2="443.7" y2="303.5" stroke="#333" stroke-width="0.6" />
<line x1="441.93" y1="300.45" x2="444.33" y2="302.85" stroke="#333" stroke-width="0.6" />
<line x1="442.56" y1="299.8" x2="444.96" y2="302.2" stroke="#333" stroke-width="0.6" />
<line x1="443.19" y1="299.16" x2="445.59" y2="301.56" stroke="#333" stroke-width="0.6" />
<path d="M266.5,276.2 L266.5,73 Q266.5,71.6 267.9,71.6 L270.6,71.6 Q272.0,71.6 272.0,73 L272.0,276.2 Z" stroke="#222" stroke-width="0.9" fill="none" />
<line x1="268" y1="73" x2="268" y2="275" stroke="#444" stroke-width="0.6" />
<line x1="270.5" y1="73" x2="270.5" y2="275" stroke="#444" stroke-width="0.6" />
<path d="M314.5,276.2 L314.5,73 Q314.5,71.6 315.9,71.6 L319.1,71.6 Q320.5,71.6 320.5,73 L320.5,276.2 Z" stroke="#222" stroke-width="0.9" fill="none" />
<line x1="316" y1="73" x2="316" y2="275" stroke="#444" stroke-width="0.6" />
<line x1="318.5" y1="73" x2="318.5" y2="275" stroke="#444" stroke-width="0.6" />
<path d="M271.8,80.1 L283.3,85.5 L302.7,85.5 L314.6,80.1" stroke="#222" stroke-width="0.6" fill="none" />
<path d="M271.8,82.0 L283.3,87.3 L302.7,87.3 L314.6,82.0" stroke="#777" stroke-width="0.4" fill="none" />
<line x1="272" y1="94.8" x2="314.5" y2="94.8" stroke="#222" stroke-width="0.7" />
<line x1="272" y1="96.5" x2="314.5" y2="96.5" stroke="#444" stroke-width="0.6" />
<path d="M271,96.4 Q293.4,104 316,96.4" stroke="#444" stroke-width="0.5" fill="none" />
<line x1="275" y1="99.5" x2="312" y2="99.5" stroke="#777" stroke-width="0.4" />
<rect x="283.3" y="85.5" width="3.1" height="24.5" fill="#e2e2e2"/>
<line x1="283.3" y1="85.5" x2="283.3" y2="110" stroke="#222" stroke-width="0.6" />
<line x1="286.4" y1="85.5" x2="286.4" y2="110" stroke="#222" stroke-width="0.6" />
<line x1="284.85" y1="85.5" x2="284.85" y2="110" stroke="#777" stroke-width="0.4" />
<rect x="299.6" y="85.5" width="3.1" height="26.5" fill="#e2e2e2"/>
<line x1="299.6" y1="85.5" x2="299.6" y2="112" stroke="#222" stroke-width="0.6" />
<line x1="302.7" y1="85.5" x2="302.7" y2="112" stroke="#222" stroke-width="0.6" />
<line x1="301.15" y1="85.5" x2="301.15" y2="112" stroke="#777" stroke-width="0.4" />
<rect x="283.3" y="181.2" width="3.1" height="61.8" fill="#e2e2e2"/>
<line x1="283.3" y1="181.2" x2="283.3" y2="243" stroke="#222" stroke-width="0.6" />
<line x1="286.4" y1="181.2" x2="286.4" y2="243" stroke="#222" stroke-width="0.6" />
<line x1="284.85" y1="181.2" x2="284.85" y2="243" stroke="#777" stroke-width="0.4" />
<rect x="299.6" y="181.2" width="3.1" height="61.8" fill="#e2e2e2"/>
<line x1="299.6" y1="181.2" x2="299.6" y2="243" stroke="#222" stroke-width="0.6" />
<line x1="302.7" y1="181.2" x2="302.7" y2="243" stroke="#222" stroke-width="0.6" />
<line x1="301.15" y1="181.2" x2="301.15" y2="243" stroke="#777" stroke-width="0.4" />
<rect x="283.3" y="140" width="3.1" height="8.6" fill="#e2e2e2"/>
<line x1="283.3" y1="140" x2="283.3" y2="148.6" stroke="#222" stroke-width="0.6" />
<line x1="286.4" y1="140" x2="286.4" y2="148.6" stroke="#222" stroke-width="0.6" />
<line x1="284.85" y1="140" x2="284.85" y2="148.6" stroke="#777" stroke-width="0.4" />
<rect x="299.6" y="136" width="3.1" height="12.6" fill="#e2e2e2"/>
<line x1="299.6" y1="136" x2="299.6" y2="148.6" stroke="#222" stroke-width="0.6" />
<line x1="302.7" y1="136" x2="302.7" y2="148.6" stroke="#222" stroke-width="0.6" />
<line x1="301.15" y1="136" x2="301.15" y2="148.6" stroke="#777" stroke-width="0.4" />
<path d="M283.3,103 L283.3,110 L287.5,112.5 L286.4,103" stroke="#222" stroke-width="0.6" fill="none" />
<path d="M299.6,106 L299.6,117 L304.5,113 L302.7,106" stroke="#222" stroke-width="0.6" fill="none" />
<path d="M299.6,128 L299.6,136 L304.5,136 L302.7,130" stroke="#222" stroke-width="0.6" fill="none" />
<line x1="278.6" y1="99.5" x2="278.6" y2="165" stroke="#444" stroke-width="0.5" />
<line x1="297.3" y1="99.5" x2="297.3" y2="165" stroke="#444" stroke-width="0.5" />
<line x1="278.6" y1="181.2" x2="278.6" y2="250" stroke="#444" stroke-width="0.5" />
<line x1="297.3" y1="181.2" x2="297.3" y2="250" stroke="#444" stroke-width="0.5" />
<path d="M272,95.6 C280,107 280,125 272,142.4" stroke="#222" stroke-width="0.8" fill="none" />
<path d="M314.5,95.6 C306.5,107 306.5,125 314.5,142.4" stroke="#222" stroke-width="0.8" fill="none" />
<path d="M272,200 C280,212 280,230 272,246" stroke="#222" stroke-width="0.8" fill="none" />
<path d="M314.5,200 C306.5,212 306.5,230 314.5,246" stroke="#222" stroke-width="0.8" fill="none" />
<circle cx="292.2" cy="140.7" r="4.3" stroke="#222" stroke-width="0.8" fill="#fff" />
<path d="M291.2,138.0 L295.0,140.7 L291.2,143.4 Z" stroke="#222" stroke-width="0.3" fill="#333" />
<rect x="282" y="137" width="5.3" height="28" fill="#e0e0e0" stroke="#555" stroke-width="0.45"/>
<rect x="298.7" y="129.5" width="3.8" height="35.5" fill="#e0e0e0" stroke="#555" stroke-width="0.45"/>
<path d="M298.7,129.5 Q300.5,126.5 303.5,128.5 L304,131" stroke="#444" stroke-width="0.5" fill="none" />
<circle cx="292.7" cy="156" r="7.2" stroke="#444" stroke-width="0.5" fill="#d6d6d6" />
<circle cx="292.7" cy="156" r="4.9" stroke="#222" stroke-width="1.1" fill="#fff" />
<circle cx="292.7" cy="156" r="2.5" stroke="#222" stroke-width="0.8" fill="none" />
<path d="M293.5,155.2 L294.6,156 L293.5,156.8" stroke="#222" stroke-width="0.5" fill="none" />
<path d="M270.1,166.2 Q270.1,165 271.3,165 L315.5,165 Q316.7,165 316.7,166.2 L316.7,180 Q316.7,181.2 315.5,181.2 L271.3,181.2 Q270.1,181.2 270.1,180 Z" stroke="#222" stroke-width="0.7" fill="none" />
<line x1="266.5" y1="164.5" x2="320.3" y2="164.5" stroke="#222" stroke-width="0.8" />
<line x1="266.5" y1="181.3" x2="320.3" y2="181.3" stroke="#222" stroke-width="0.8" />
<rect x="268.5" y="167.5" width="4" height="11" fill="#c8c8c8" stroke="#333" stroke-width="0.5"/>
<rect x="313.8" y="167.5" width="4" height="11" fill="#c8c8c8" stroke="#333" stroke-width="0.5"/>
<line x1="274" y1="167.3" x2="313" y2="167.3" stroke="#444" stroke-width="0.4" />
<line x1="274" y1="169.6" x2="313" y2="169.6" stroke="#444" stroke-width="0.4" />
<line x1="274" y1="175" x2="313" y2="175" stroke="#444" stroke-width="0.4" />
<line x1="274" y1="178.9" x2="313" y2="178.9" stroke="#444" stroke-width="0.4" />
<line x1="274" y1="165" x2="274" y2="181.2" stroke="#222" stroke-width="0.6" />
<line x1="313" y1="165" x2="313" y2="181.2" stroke="#222" stroke-width="0.6" />
<line x1="276" y1="167.3" x2="276" y2="178.9" stroke="#444" stroke-width="0.4" />
<line x1="311" y1="167.3" x2="311" y2="178.9" stroke="#444" stroke-width="0.4" />
<path d="M282.5,202.4 L282.5,211 L287.2,211 L286.4,204" stroke="#222" stroke-width="0.6" fill="none" />
<path d="M282.5,235 L282.5,242.8 L286.4,242.8 L287.2,236" stroke="#222" stroke-width="0.6" fill="none" />
<path d="M299.6,205.5 L299.6,214.8 L304.3,214.8 L302.7,207" stroke="#222" stroke-width="0.6" fill="none" />
<path d="M299.6,228.8 L299.6,236.6 L303.5,236.6 L302.7,230" stroke="#222" stroke-width="0.6" fill="none" />
<path d="M284,218 L282.3,220.3 L283.4,220.3 L283.4,223.4 L284.6,223.4 L284.6,220.3 L285.7,220.3 Z" stroke="#222" stroke-width="0.4" fill="none" />
<path d="M280,227.3 L282.3,225.6 L282.3,226.7 L288,226.7 L288,227.9 L282.3,227.9 L282.3,229 Z" stroke="#222" stroke-width="0.4" fill="none" />
<rect x="290.3" y="214.8" width="4.7" height="17.2" fill="#555"/>
<line x1="290.3" y1="215.5" x2="295" y2="215.5" stroke="#fff" stroke-width="0.5" />
<line x1="290.3" y1="216.9" x2="295" y2="216.9" stroke="#fff" stroke-width="0.5" />
<line x1="290.3" y1="218.3" x2="295" y2="218.3" stroke="#fff" stroke-width="0.5" />
<line x1="290.3" y1="219.7" x2="295" y2="219.7" stroke="#fff" stroke-width="0.5" />
<line x1="290.3" y1="221.1" x2="295" y2="221.1" stroke="#fff" stroke-width="0.5" />
<line x1="290.3" y1="222.5" x2="295" y2="222.5" stroke="#fff" stroke-width="0.5" />
<line x1="290.3" y1="223.9" x2="295" y2="223.9" stroke="#fff" stroke-width="0.5" />
<line x1="290.3" y1="225.3" x2="295" y2="225.3" stroke="#fff" stroke-width="0.5" />
<line x1="290.3" y1="226.7" x2="295" y2="226.7" stroke="#fff" stroke-width="0.5" />
<line x1="290.3" y1="228.1" x2="295" y2="228.1" stroke="#fff" stroke-width="0.5" />
<line x1="290.3" y1="229.5" x2="295" y2="229.5" stroke="#fff" stroke-width="0.5" />
<line x1="290.3" y1="230.9" x2="295" y2="230.9" stroke="#fff" stroke-width="0.5" />
<path d="M272,246 Q293.4,240 315,246" stroke="#444" stroke-width="0.5" fill="none" />
<line x1="270.6" y1="249.8" x2="316" y2="249.8" stroke="#222" stroke-width="0.6" />
<line x1="270.6" y1="252.1" x2="316" y2="252.1" stroke="#444" stroke-width="0.5" />
<path d="M269.3,265.3 Q269.3,264.5 270.1,264.5 L316.7,264.5 Q317.5,264.5 317.5,265.3 L317.5,267.6 Q317.5,268.4 316.7,268.4 L270.1,268.4 Q269.3,268.4 269.3,267.6 Z" stroke="#222" stroke-width="0.6" fill="none" />
<path d="M285.6,252.1 L285.6,264.5 M313.6,252.1 L313.6,264.5" stroke="#444" stroke-width="0.5" fill="none" />
<path d="M288,254.5 L310,254.5 L312,257 L312,262 M288,257 L308,257 L310,259 L310,262" stroke="#222" stroke-width="0.6" fill="none" />
<path d="M290,252.1 L290,254 L300,254 L300,252.1" stroke="#444" stroke-width="0.5" fill="none" />
<path d="M293,259 L306,259 L306,262 L293,262 Z" stroke="#444" stroke-width="0.5" fill="none" />
<path d="M287.4,268.4 C287.5,280 285,290 285.0,300" stroke="#222" stroke-width="0.8" fill="none" />
<path d="M290.2,268.4 C287.5,280 289.5,290 287.6,300" stroke="#222" stroke-width="0.8" fill="none" />
<path d="M292.6,268.4 C291.8,280 290.6,290 289.8,300" stroke="#222" stroke-width="0.8" fill="none" />
<path d="M286.5,284 L290,279 M286,292 L289.5,287" stroke="#444" stroke-width="0.4" fill="none" />
<path d="M320.6,235 Q323,237 323,245 Q323,253 320.6,255" stroke="#444" stroke-width="0.6" fill="none" />
<line x1="266.2" y1="48" x2="266.2" y2="70.5" stroke="#444" stroke-width="0.5" />
<line x1="320.6" y1="48" x2="320.6" y2="70.5" stroke="#444" stroke-width="0.5" />
<line x1="266.2" y1="50.8" x2="320.6" y2="50.8" stroke="#444" stroke-width="0.5" />
<path d="M266.2,50.8 L269.2,50.1 L269.2,51.5 Z" stroke="#333" stroke-width="0.3" fill="#333" />
<path d="M320.6,50.8 L317.6,50.1 L317.6,51.5 Z" stroke="#333" stroke-width="0.3" fill="#333" />
<text x="284" y="49.9" font-size="4.6" fill="#333" textLength="9.3" lengthAdjust="spacingAndGlyphs" >50.8</text>
<text x="295" y="49.9" font-size="3.2" fill="#555" textLength="7.5" lengthAdjust="spacingAndGlyphs" >±0.3</text>
<line x1="260" y1="61" x2="266.2" y2="61" stroke="#444" stroke-width="0.5" />
<line x1="272.8" y1="61" x2="289.2" y2="61" stroke="#444" stroke-width="0.5" />
<line x1="272.8" y1="58" x2="272.8" y2="70.5" stroke="#444" stroke-width="0.5" />
<path d="M266.2,61 L263.6,60.3 L263.6,61.7 Z" stroke="#333" stroke-width="0.3" fill="#333" />
<path d="M272.8,61 L275.4,60.3 L275.4,61.7 Z" stroke="#333" stroke-width="0.3" fill="#333" />
<text x="278" y="59.8" font-size="4.6" fill="#333" textLength="2.4" lengthAdjust="spacingAndGlyphs" >5</text>
<text x="282" y="59.8" font-size="3.2" fill="#555" textLength="7.2" lengthAdjust="spacingAndGlyphs" >±0.3</text>
<line x1="299.7" y1="61" x2="314.2" y2="61" stroke="#444" stroke-width="0.5" />
<line x1="320.6" y1="61" x2="327.7" y2="61" stroke="#444" stroke-width="0.5" />
<line x1="314.2" y1="58.5" x2="314.2" y2="80" stroke="#444" stroke-width="0.5" />
<path d="M314.2,61 L311.6,60.3 L311.6,61.7 Z" stroke="#333" stroke-width="0.3" fill="#333" />
<path d="M320.6,61 L323.2,60.3 L323.2,61.7 Z" stroke="#333" stroke-width="0.3" fill="#333" />
<text x="299.7" y="59.8" font-size="4.6" fill="#333" textLength="2.4" lengthAdjust="spacingAndGlyphs" >5</text>
<text x="303.5" y="59.8" font-size="3.2" fill="#555" textLength="7.2" lengthAdjust="spacingAndGlyphs" >±0.3</text>
<text x="339" y="93.3" font-size="5.2" fill="#222" textLength="57.7" lengthAdjust="spacingAndGlyphs" stroke="#222" stroke-width="0.12">Schraube: Duo Taptite nach</text>
<text x="339" y="99.3" font-size="5.2" fill="#222" textLength="68" lengthAdjust="spacingAndGlyphs" stroke="#222" stroke-width="0.12">screw: Duo-Taptite according to</text>
<text x="339" y="105.2" font-size="5.2" fill="#222" textLength="49.7" lengthAdjust="spacingAndGlyphs" stroke="#222" stroke-width="0.12">DIN 7500; CM4x8; Torx</text>
<line x1="335.3" y1="106.1" x2="408.7" y2="106.1" stroke="#444" stroke-width="0.5" />
<line x1="335.3" y1="106.1" x2="297.5" y2="150.5" stroke="#444" stroke-width="0.5" />
</svg></body></html>
